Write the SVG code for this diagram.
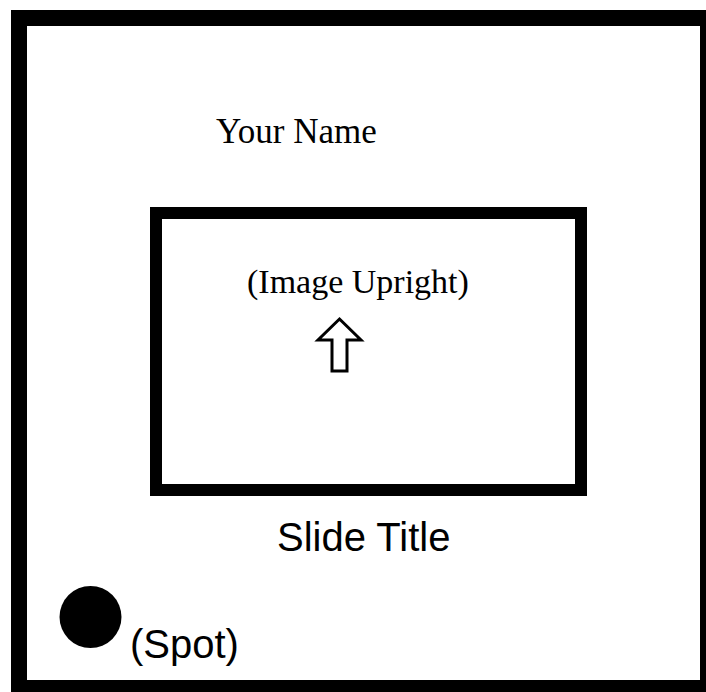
<svg xmlns="http://www.w3.org/2000/svg" width="706" height="692" viewBox="0 0 706 692">
<style>
.frame{fill:none;stroke:#000}
.serif{font-family:"Liberation Serif","Times New Roman",serif;fill:#000}
.sans{font-family:"Liberation Sans",Arial,sans-serif;font-size:40px;fill:#000}
</style>
<rect width="706" height="692" fill="#fff"/>
<g id="outer-frame"><rect class="frame" x="19" y="18" width="689" height="670" stroke-width="16"/></g>
<g id="your-name"><text class="serif" font-size="35" x="216" y="143">Your Name</text></g>
<g id="image-frame">
<rect class="frame" x="156" y="213" width="425" height="277" stroke-width="12"/>
<text class="serif" font-size="34" x="247" y="293">(Image Upright)</text>
<polygon points="339.5,319 361,340 347,340 347,371 332,371 332,340 318,340" fill="#fff" stroke="#000" stroke-width="3" stroke-linejoin="miter"/>
</g>
<g id="slide-title"><text class="sans" x="277" y="551">Slide Title</text></g>
<g id="spot">
<circle cx="90.5" cy="617" r="31" fill="#000"/>
<text class="sans" x="130" y="658">(Spot)</text>
</g>
<g id="connectors"/>
</svg>
